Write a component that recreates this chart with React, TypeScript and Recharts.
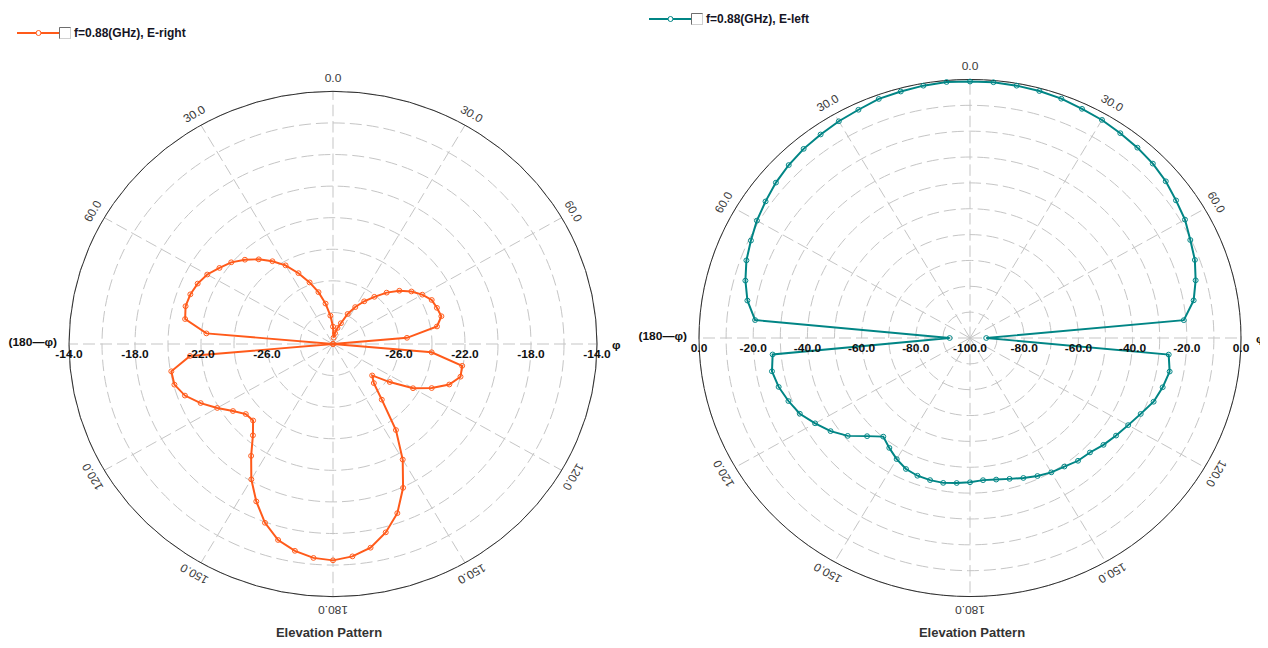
import React from 'react';
import { RadarChart, Radar, PolarGrid, PolarAngleAxis, PolarRadiusAxis } from 'recharts';

// ---------- data ----------
const angles = [
  0, 5, 10, 15, 20, 25, 30, 35, 40, 45, 50, 55, 60, 65, 70, 75, 80, 85,
  90, 95, 100, 105, 110, 115, 120, 125, 130, 135, 140, 145, 150, 155, 160, 165, 170, 175,
  180, 185, 190, 195, 200, 205, 210, 215, 220, 225, 230, 235, 240, 245, 250, 255, 260, 265,
  270, 275, 280, 285, 290, 295, 300, 305, 310, 315, 320, 325, 330, 335, 340, 345, 350, 355,
];

// f=0.88(GHz), E-right  (dB)
const eRight = [
  -28.9, -29.6, -29.3, -28.95, -28.6, -27.9, -27.3, -26.7, -26.1, -25.4, -24.75, -24.2, -23.75, -23.4, -23.3, -23.2, -23.6, -25.5,
  -30.0, -24.0, -22.05, -22.0, -22.5, -23.4, -24.4, -25.8, -26.9, -26.5, -25.4, -23.35, -21.55, -19.95, -18.6, -17.65, -16.9, -16.5,
  -16.3, -16.4, -16.7, -17.15, -17.95, -19.0, -20.1, -21.35, -22.45, -23.15, -23.1, -22.6, -21.9, -21.15, -20.45, -20.05, -20.05, -21.3,
  -30.0, -22.3, -20.9, -20.75, -20.8, -20.95, -21.2, -21.6, -21.95, -22.45, -23.0, -23.6, -24.25, -25.05, -25.85, -26.6, -27.4, -28.2,
];

// f=0.88(GHz), E-left  (dB)
const eLeft = [
  -0.8, -0.7, -0.9, -1.1, -1.5, -2.2, -2.6, -3.3, -3.9, -4.6, -5.7, -7.2, -8.4, -10.3, -11.7, -13.8, -16.2, -20.8,
  -94.0, -26.4, -25.2, -26.4, -27.9, -30.5, -32.6, -34.2, -35.7, -37.4, -38.0, -39.3, -40.0, -41.1, -42.4, -43.6, -44.4, -44.8,
  -44.2, -43.7, -43.1, -43.1, -43.3, -44.1, -45.9, -48.1, -50.2, -46.3, -41.1, -37.2, -34.0, -30.7, -28.7, -26.9, -25.8, -26.9,
  -92.5, -20.4, -16.6, -14.2, -12.2, -10.8, -9.2, -7.9, -6.5, -5.4, -4.5, -3.9, -3.2, -2.6, -1.6, -1.3, -0.9, -0.6,
];

const angleTicks = [0, 30, 60, 90, 120, 150, 180, 210, 240, 270, 300, 330];
const angleTickLabels = ['0.0', '30.0', '60.0', 'φ', '120.0', '150.0', '180.0', '150.0', '120.0', '(180—φ)', '60.0', '30.0'];

const rightRadiusTicks = [-30, -28, -26, -24, -22, -20, -18, -16, -14];
const rightRadiusLabels = [-26, -22, -18, -14];

const leftRadiusTicks = [-100, -90, -80, -70, -60, -50, -40, -30, -20, -10, 0];
const leftRadiusLabels = [-80, -60, -40, -20, 0];
const leftCenterLabel = -100;

const rightData = angles.map((a, i) => ({ angle: a, value: eRight[i] }));
const leftData = angles.map((a, i) => ({ angle: a, value: eLeft[i] }));

const FONT = '"Liberation Sans", Arial, sans-serif';
const RAD = Math.PI / 180;

type PanelProps = {
  data: { angle: number; value: number }[];
  color: string;
  domain: [number, number];
  radiusTicks: number[];
  radiusLabels: number[];
  centerLabel?: number;
  cx: number;
  cy: number;
  R: number;
  scaleY: number;
  left: number;
};

function Panel(p: PanelProps) {
  const { cx, cy, R } = p;

  const renderAngleTick = (props: any) => {
    const { payload } = props;
    const v = payload.value as number;
    const idx = angleTicks.indexOf(v);
    const label = angleTickLabels[idx];
    const coord = payload.coordinate as number;
    if (v === 90) {
      return (
        <text x={cx + R + 15} y={cy + 1} textAnchor="start" dominantBaseline="central"
          fontFamily={FONT} fontSize={12} fontWeight="bold" fill="#111">{label}</text>
      );
    }
    if (v === 270) {
      return (
        <text x={cx - R - 12} y={cy - 3} textAnchor="end" dominantBaseline="central"
          fontFamily={FONT} fontSize={12} fontWeight="bold" fill="#111">{label}</text>
      );
    }
    const r = R + 14;
    const x = cx + r * Math.cos(-coord * RAD);
    const y = cy + r * Math.sin(-coord * RAD);
    return (
      <text x={x} y={y} textAnchor="middle" dominantBaseline="central"
        transform={`rotate(${v}, ${x}, ${y})`}
        fontFamily={FONT} fontSize={12} fill="#3a3a3a">{label}</text>
    );
  };

  const renderRadiusTick = (props: any) => {
    const { x, y, payload } = props;
    const v = payload.value as number;
    if (p.centerLabel !== undefined && v === p.centerLabel) {
      return (
        <text x={x} y={y} dy={15} textAnchor="middle" fontFamily={FONT} fontSize={12}
          fontWeight="bold" fill="#111">{v.toFixed(1)}</text>
      );
    }
    if (!p.radiusLabels.includes(v)) return <g />;
    const mx = 2 * cx - x;
    return (
      <g>
        <text x={x} y={y} dy={15} textAnchor="middle" fontFamily={FONT} fontSize={12}
          fontWeight="bold" fill="#111">{v.toFixed(1)}</text>
        <text x={mx} y={y} dy={15} textAnchor="middle" fontFamily={FONT} fontSize={12}
          fontWeight="bold" fill="#111">{v.toFixed(1)}</text>
      </g>
    );
  };

  return (
    <div style={{
      position: 'absolute', left: p.left, top: 0, width: 634, height: 648,
      transform: `scaleY(${p.scaleY})`, transformOrigin: `${cx}px ${cy}px`,
    }}>
      <RadarChart width={634} height={648} data={p.data} cx={cx} cy={cy} outerRadius={R}
        startAngle={90} endAngle={-270} margin={{ top: 0, right: 0, bottom: 0, left: 0 }}>
        <PolarGrid gridType="circle" stroke="#c4c4c4" strokeDasharray="12 5" />
        <PolarAngleAxis dataKey="angle" type="number" domain={[0, 360]} ticks={angleTicks}
          tick={renderAngleTick} tickLine={false} axisLineType="circle"
          axisLine={{ stroke: '#2a2a2a', strokeWidth: 1 }} />
        <PolarRadiusAxis angle={0} type="number" domain={p.domain} ticks={p.radiusTicks}
          allowDataOverflow tick={renderRadiusTick} tickLine={false} axisLine={false} />
        <Radar dataKey="value" stroke={p.color} strokeWidth={2} fill="none" fillOpacity={0}
          dot={{ r: 2.5, fill: 'none', stroke: p.color, strokeWidth: 1 }}
          isAnimationActive={false} />
      </RadarChart>
    </div>
  );
}

function LegendItem({ x, y, color, text }: { x: number; y: number; color: string; text: string }) {
  return (
    <div style={{ position: 'absolute', left: x, top: y - 8, height: 16, display: 'flex', alignItems: 'center' }}>
      <svg width={56} height={16} style={{ display: 'block' }}>
        <line x1={0} y1={8} x2={42} y2={8} stroke={color} strokeWidth={2} />
        <circle cx={21.5} cy={8} r={2.5} fill="#fff" stroke={color} strokeWidth={1} />
        <rect x={42.5} y={2.5} width={11} height={11} fill="#fff" stroke="#d0d0d0" />
        <path d="M42.5 13.5 V2.5 H53.5" fill="none" stroke="#6e6e6e" />
      </svg>
      <span style={{ fontFamily: FONT, fontSize: 12, fontWeight: 'bold', color: '#151525', marginLeft: 1, whiteSpace: 'nowrap' }}>
        {text}
      </span>
    </div>
  );
}

function Title({ x, y }: { x: number; y: number }) {
  return (
    <div style={{
      position: 'absolute', left: x - 80, top: y - 8, width: 160, textAlign: 'center',
      fontFamily: FONT, fontSize: 13, fontWeight: 'bold', color: '#333', lineHeight: '16px',
    }}>Elevation Pattern</div>
  );
}

export default function App() {
  return (
    <div style={{ position: 'relative', width: 1268, height: 648, marginLeft: -8, marginTop: -8, background: '#fff', overflow: 'hidden' }}>
      <Panel data={rightData} color="#ff5a1a" domain={[-30, -14]} radiusTicks={rightRadiusTicks}
        radiusLabels={rightRadiusLabels} cx={333} cy={344} R={264} scaleY={0.957} left={0} />
      <Panel data={leftData} color="#008585" domain={[-100, 0]} radiusTicks={leftRadiusTicks}
        radiusLabels={leftRadiusLabels} centerLabel={leftCenterLabel} cx={336} cy={338} R={271} scaleY={0.954} left={634} />
      <LegendItem x={17} y={33} color="#ff5a1a" text="f=0.88(GHz), E-right" />
      <LegendItem x={649} y={19} color="#008585" text="f=0.88(GHz), E-left" />
      <Title x={329} y={633} />
      <Title x={972} y={633} />
    </div>
  );
}
